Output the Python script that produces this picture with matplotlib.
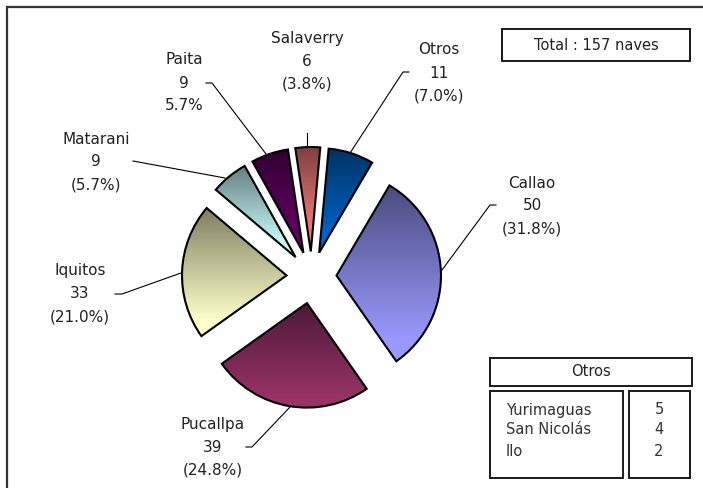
import numpy as np
import matplotlib
matplotlib.use("Agg")
import matplotlib.pyplot as plt
from matplotlib.patches import Rectangle
from matplotlib.colors import LinearSegmentedColormap

W, H = 703, 488
categories = ["Callao", "Otros", "Salaverry", "Paita", "Matarani", "Iquitos", "Pucallpa"]
values = [50, 11, 6, 9, 9, 33, 39]
pct_labels = ["(31.8%)", "(7.0%)", "(3.8%)", "5.7%", "(5.7%)", "(21.0%)", "(24.8%)"]
other_names = ["Yurimaguas", "San Nicolás", "Ilo"]
other_values = [5, 4, 2]
total_label = "Total : 157 naves"

top_colors = ["#4b4b7d", "#003264", "#7d4141", "#320032", "#647d7d", "#7d7d5f", "#4b1937"]
bottom_colors = ["#9999ff", "#0066cc", "#ff8080", "#660066", "#ccffff", "#ffffcc", "#993366"]
offsets = [25, 25, 25, 25, 25, 25, 27]

label_pos = [(532, 206), (439, 73), (307, 61), (184, 83), (96, 162), (80, 294), (213, 447)]
leaders = [
    [(496, 205), (490, 205), (442, 270)],
    [(409, 72), (403, 72), (350, 153)],
    [(307, 133), (307, 147)],
    [(206, 83), (212, 83), (266, 154)],
    [(133, 161), (225, 178)],
    [(115, 294), (122, 294), (181, 273)],
    [(246, 447), (252, 447), (290, 407)],
]

def Y(y):
    return H - y

fig = plt.figure(figsize=(W / 100, H / 100), dpi=100)
ax = fig.add_axes([0, 0, 1, 1])
FS = 11
TC = "#222222"

wedges, _ = ax.pie(values, explode=offsets, startangle=-55.1, counterclock=True,
                   center=(311.5, Y(276.5)), radius=104.5, frame=True,
                   wedgeprops=dict(facecolor="none", edgecolor="black", linewidth=1.5, zorder=3))
ax.set_xlim(0, W)
ax.set_ylim(0, H)
ax.axis("off")

for w, c0, c1 in zip(wedges, top_colors, bottom_colors):
    verts = w.get_patch_transform().transform(w.get_path().vertices)
    x0, y0 = verts.min(axis=0)
    x1, y1 = verts.max(axis=0)
    cmap = LinearSegmentedColormap.from_list("g", [(0, c0), (0.88, c1), (1, c1)])
    im = ax.imshow(np.linspace(0, 1, 256)[:, None], cmap=cmap, aspect="auto",
                   extent=(x0, x1, y0, y1), origin="upper", zorder=2, interpolation="bilinear")
    im.set_clip_path(w)
ax.set_xlim(0, W)
ax.set_ylim(0, H)

for pts in leaders:
    xs, ys = zip(*pts)
    ax.plot(xs, [Y(v) for v in ys], color="black", lw=0.8, zorder=1, solid_joinstyle="miter")

for name, val, pct, (x, y) in zip(categories, values, pct_labels, label_pos):
    for txt, dy in zip([name, str(val), pct], (-23, 0, 23)):
        ax.text(x, Y(y + dy), txt, ha="center", va="center", fontsize=FS, color=TC)

def box(x0, y0, x1, y1, lw=1.4):
    ax.add_patch(Rectangle((x0, Y(y1)), x1 - x0, y1 - y0, facecolor="white",
                           edgecolor="#1a1a1a", linewidth=lw, zorder=4, clip_on=False))

ax.plot([6.5, 6.5, W], [0, Y(7), Y(7)], color="#333333", lw=1.6, zorder=0,
        solid_joinstyle="miter")
box(502, 29, 690, 61)
box(490, 358, 692, 386)
box(490, 391, 623, 478)
box(629, 391, 690, 478)

ax.text(596, Y(45), total_label, ha="center", va="center", fontsize=FS - 0.5, color=TC, zorder=5)
ax.text(591, Y(372), "Otros", ha="center", va="center", fontsize=FS - 0.5, color=TC, zorder=5)
for name, val, y in zip(other_names, other_values, (410, 430, 451)):
    ax.text(506, Y(y), name, ha="left", va="center", fontsize=FS - 0.5, color="#333333", zorder=5)
    ax.text(659, Y(y), str(val), ha="center", va="center", fontsize=FS - 0.5, color="#333333", zorder=5)

fig.savefig("out.png", dpi=100, facecolor="white")
